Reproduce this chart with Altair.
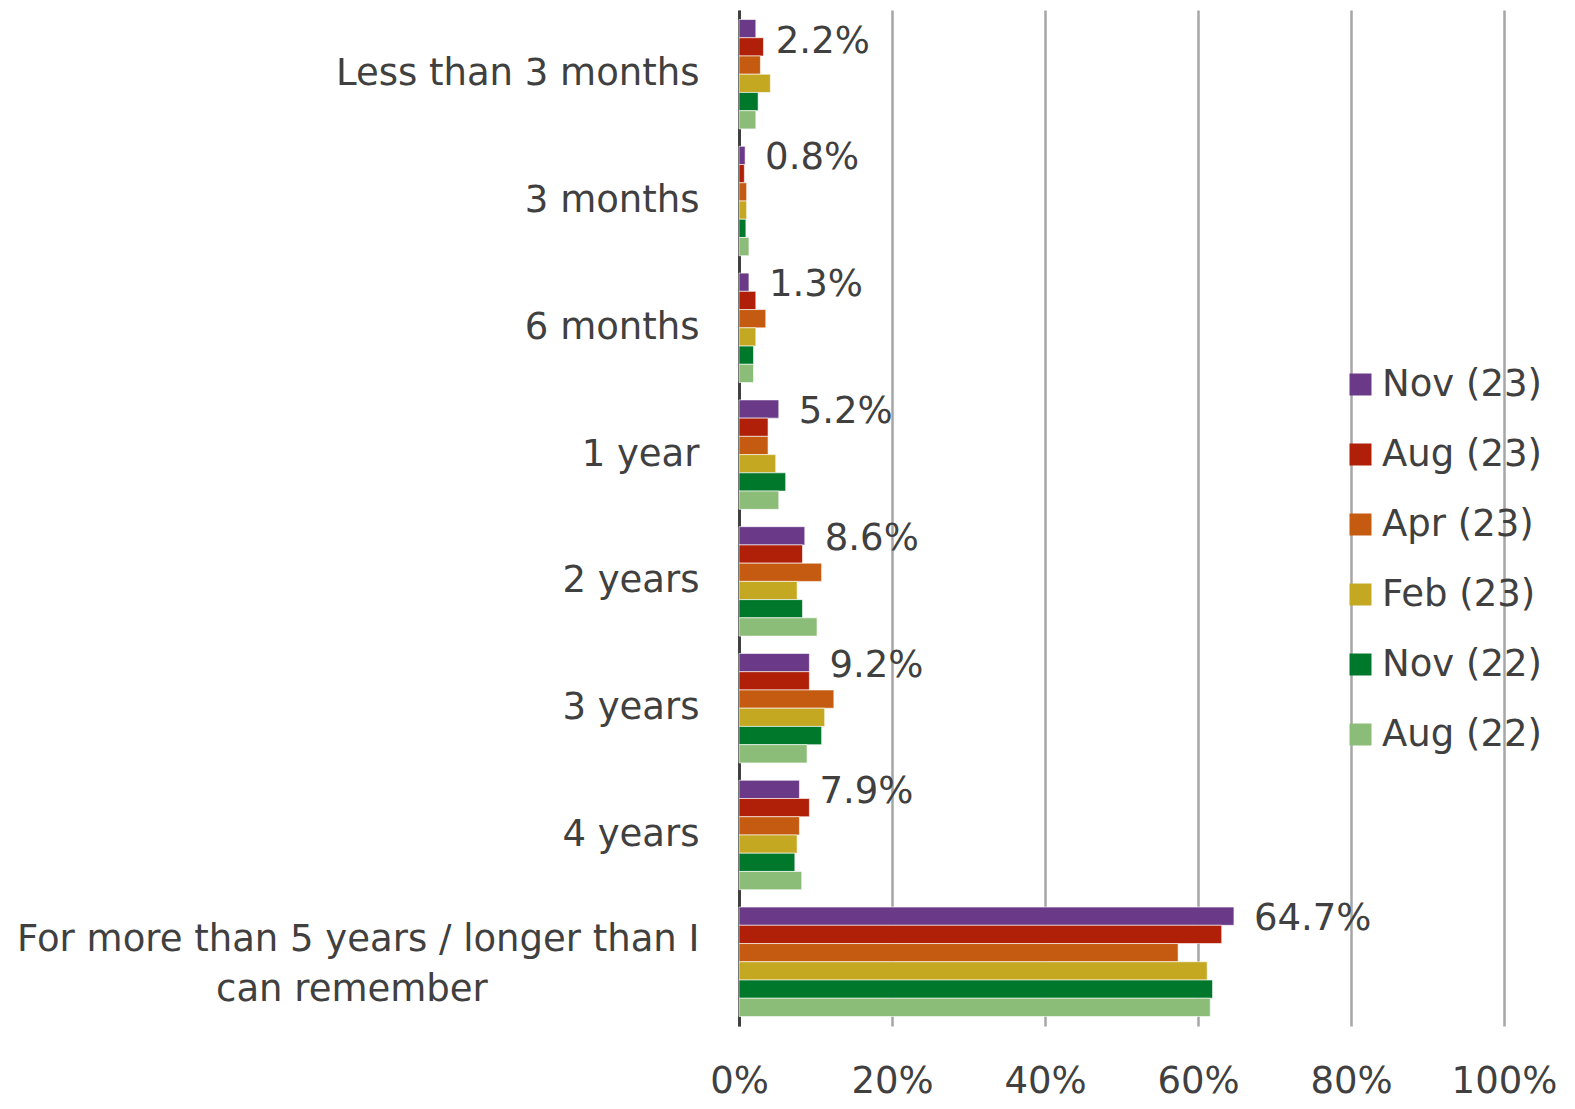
import altair as alt
import pandas as pd

FONT = "DejaVu Sans"
TXT = "#404040"

categories = [
    "Less than 3 months",
    "3 months",
    "6 months",
    "1 year",
    "2 years",
    "3 years",
    "4 years",
    "For more than 5 years / longer than I can remember",
]
long_label_lines = ["For more than 5 years / longer than I", "can remember"]

series_names = ["Nov (23)", "Aug (23)", "Apr (23)", "Feb (23)", "Nov (22)", "Aug (22)"]
colors = ["#6A3A89", "#B01F07", "#C55A11", "#C4A822", "#00782B", "#8BBD78"]

nov23 = [2.2, 0.8, 1.3, 5.2, 8.6, 9.2, 7.9, 64.7]
aug23 = [3.2, 0.7, 2.2, 3.8, 8.3, 9.2, 9.2, 63.1]
apr23 = [2.8, 1.0, 3.5, 3.8, 10.8, 12.4, 7.9, 57.4]
feb23 = [4.1, 1.0, 2.2, 4.8, 7.6, 11.2, 7.6, 61.2]
nov22 = [2.5, 0.9, 1.9, 6.1, 8.3, 10.8, 7.3, 61.9]
aug22 = [2.2, 1.3, 1.9, 5.2, 10.2, 8.9, 8.2, 61.6]

series_values = [nov23, aug23, apr23, feb23, nov22, aug22]

rows = []
for s, vals in zip(series_names, series_values):
    for c, v in zip(categories, vals):
        rows.append({"category": c, "series": s, "value": v})
df = pd.DataFrame(rows)

# trailing no-break spaces (kept by a zero-width space) centre the second line
second_line = long_label_lines[1] + "\u00a0" * 18 + "\u200b"
label_expr = (
    f"datum.value == '{categories[-1]}' ? "
    f"['{long_label_lines[0]}', '{second_line}'] : datum.label"
)

y_enc = alt.Y(
    "category:N",
    sort=categories,
    scale=alt.Scale(domain=categories, paddingInner=0.137, paddingOuter=0.075),
    axis=alt.Axis(
        title=None,
        ticks=False,
        domain=True,
        domainColor=TXT,
        domainWidth=3,
        grid=False,
        labelFont=FONT,
        labelFontSize=37,
        labelColor=TXT,
        labelPadding=40,
        labelLimit=1000,
        labelLineHeight=50,
        labelExpr=label_expr,
        labelOffset={
            "condition": {"test": f"datum.value == '{categories[-1]}'", "value": -22},
            "value": 0,
        },
    ),
)

x_enc = alt.X(
    "value:Q",
    scale=alt.Scale(domain=[0, 100], nice=False),
    axis=alt.Axis(
        title=None,
        values=[0, 20, 40, 60, 80, 100],
        labelExpr="datum.value + '%'",
        labelFlush=False,
        grid=True,
        gridColor="#a6a6a6",
        gridWidth=2.5,
        domain=False,
        ticks=False,
        labelFont=FONT,
        labelFontSize=37,
        labelColor=TXT,
        labelPadding=37,
    ),
)

yoff = alt.YOffset(
    "series:N",
    sort=series_names,
    scale=alt.Scale(domain=series_names, paddingInner=0, paddingOuter=0),
)

bars = alt.Chart(df).mark_bar(stroke="white", strokeWidth=0.6).encode(
    x=x_enc,
    y=y_enc,
    yOffset=yoff,
    color=alt.Color(
        "series:N",
        sort=series_names,
        scale=alt.Scale(domain=series_names, range=colors),
        legend=alt.Legend(
            title=None,
            orient="none",
            legendX=603,
            legendY=356,
            symbolType="square",
            symbolSize=484,
            symbolStrokeWidth=0,
            labelFont=FONT,
            labelFontSize=37,
            labelColor=TXT,
            labelOffset=3,
            rowPadding=32,
            padding=0,
        ),
    ),
)

label_base = (
    alt.Chart(df)
    .transform_filter(alt.datum.series == series_names[0])
    .transform_calculate(label="format(datum.value, '.1f') + '%'")
)

labels_rest = (
    label_base.transform_filter(alt.datum.category != categories[0])
    .mark_text(align="left", baseline="middle", dx=20, dy=3, font=FONT, fontSize=37, color=TXT)
    .encode(x="value:Q", y=alt.Y("category:N", sort=categories), yOffset=yoff, text="label:N")
)
labels_first = (
    label_base.transform_filter(alt.datum.category == categories[0])
    .mark_text(align="left", baseline="middle", dx=20, dy=13, font=FONT, fontSize=37, color=TXT)
    .encode(x="value:Q", y=alt.Y("category:N", sort=categories), yOffset=yoff, text="label:N")
)

chart = (
    alt.layer(bars, labels_rest, labels_first)
    .properties(
        width=765,
        height=1016,
        autosize=alt.AutoSizeParams(type="none"),
        padding={"left": 731, "top": 2, "right": 55, "bottom": 80},
    )
    .configure_view(stroke=None)
)

chart.save("out.html", embed_options={"renderer": "svg", "actions": False})
